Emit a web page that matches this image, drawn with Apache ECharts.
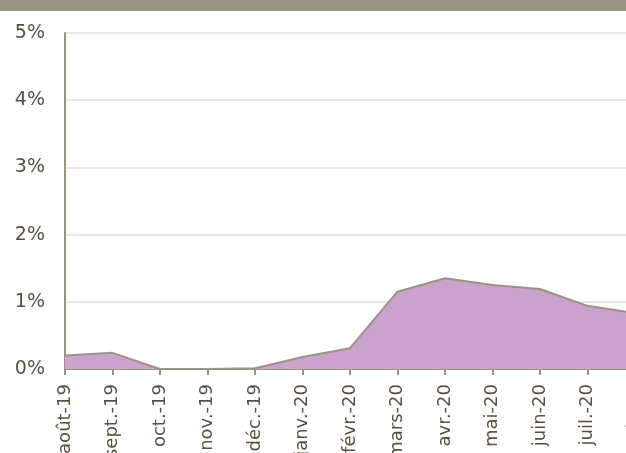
<!DOCTYPE html>
<html><head><meta charset="utf-8">
<script src="https://cdn.jsdelivr.net/npm/echarts@6/dist/echarts.min.js"></script>
<style>html,body{margin:0;padding:0;background:#fff}#c{width:626px;height:453px}</style>
</head><body><div id="c"></div>
<script>
const categories = ['août-19','sept.-19','oct.-19','nov.-19','déc.-19','janv.-20','févr.-20','mars-20','avr.-20','mai-20','juin-20','juil.-20','août-20'];
const values = [0.20, 0.24, 0.00, 0.00, 0.01, 0.18, 0.31, 1.15, 1.35, 1.25, 1.19, 0.94, 0.83];
const yTicks = [0, 1, 2, 3, 4, 5];

const chart = echarts.init(document.getElementById('c'));
chart.setOption({
  animation: false,
  graphic: [{ type: 'rect', shape: { x: 0, y: 0, width: 626, height: 11 }, style: { fill: '#9d9383' } }],
  grid: { left: 65, top: 33, width: 570, height: 336, outerBoundsMode: 'none', containLabel: false },
  xAxis: {
    type: 'category', data: categories, boundaryGap: false,
    axisLine: { lineStyle: { color: '#9d9383', width: 2 } },
    axisTick: { show: true, length: 6, lineStyle: { color: '#9d9383', width: 2 } },
    axisLabel: { rotate: 90, margin: 15, color: '#5b5040', fontFamily: 'DejaVu Sans', fontSize: 18, interval: 0 },
    splitLine: { show: false }
  },
  yAxis: {
    type: 'value', min: yTicks[0], max: yTicks[yTicks.length - 1], interval: 1,
    axisLine: { show: true, lineStyle: { color: '#9d9383', width: 2 } },
    axisTick: { show: false },
    axisLabel: { margin: 20, color: '#5b5040', fontFamily: 'DejaVu Sans', fontSize: 19, formatter: v => v + '%' },
    splitLine: { lineStyle: { color: '#ebe7de', width: 2 } }
  },
  series: [{
    type: 'line', data: values, symbol: 'none',
    lineStyle: { color: '#9d9383', width: 2 },
    areaStyle: { color: '#c9a3cc', opacity: 1 }
  }]
});
</script></body></html>
